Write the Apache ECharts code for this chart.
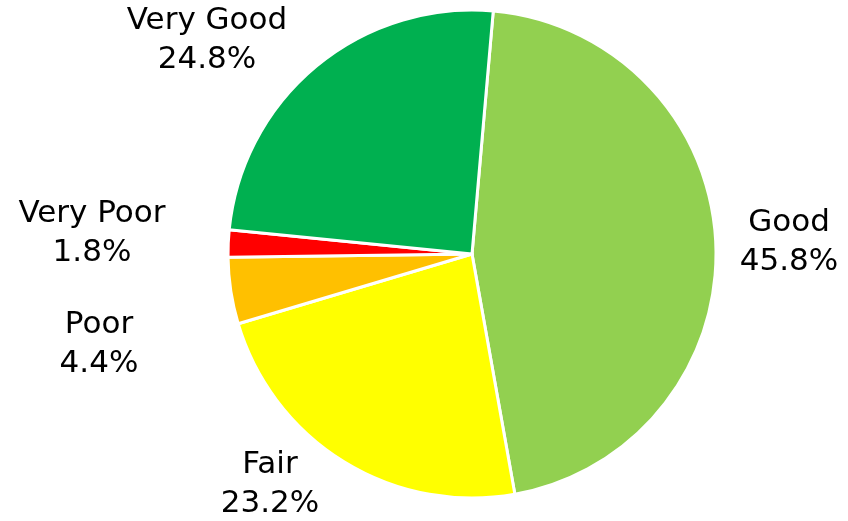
<!DOCTYPE html>
<html><head><meta charset="utf-8">
<script src="https://cdn.jsdelivr.net/npm/echarts@6/dist/echarts.min.js"></script>
<style>html,body{margin:0;padding:0;background:#fff}#c{width:848px;height:521px}</style>
</head><body><div id="c"></div>
<script>
const categories = ['Good', 'Fair', 'Poor', 'Very Poor', 'Very Good'];
const values = [45.8, 23.2, 4.4, 1.8, 24.8];
const colors = ['#92D050', '#FFFF00', '#FFC000', '#FF0000', '#00B050'];
// label block centres (layout only)
const labelPos = [[789, 242], [270, 484], [99, 344], [92, 233], [207, 40]];

const chart = echarts.init(document.getElementById('c'));
chart.setOption({
  animation: false,
  series: [{
    type: 'pie',
    center: [472, 254],
    radius: [0, 244],
    startAngle: 85,
    clockwise: true,
    avoidLabelOverlap: false,
    itemStyle: { borderColor: '#fff', borderWidth: 3 },
    label: {
      show: true,
      position: 'outside',
      formatter: p => p.name + '\n' + p.value.toFixed(1) + '%',
      fontFamily: 'DejaVu Sans',
      fontSize: 31,
      lineHeight: 39,
      color: '#000'
    },
    labelLine: { show: false, length: 18, length2: 0 },
    labelLayout: function (params) {
      const p = labelPos[params.dataIndex];
      return { x: p[0], y: p[1], align: 'center', verticalAlign: 'middle' };
    },
    data: categories.map((c, i) => ({ name: c, value: values[i], itemStyle: { color: colors[i] } }))
  }]
});
</script></body></html>
